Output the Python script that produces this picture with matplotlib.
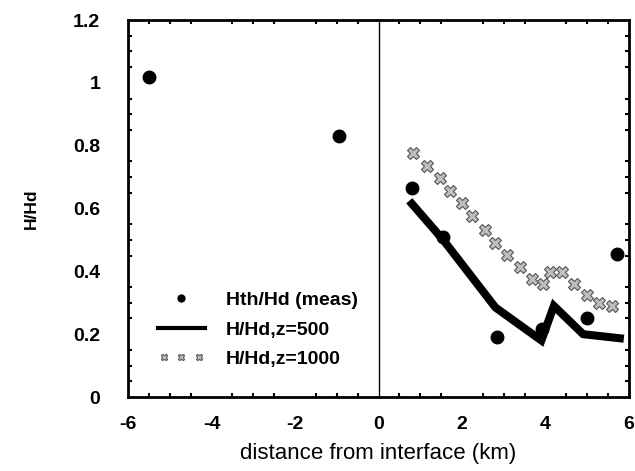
import matplotlib
matplotlib.use("Agg")
import matplotlib.pyplot as plt
from matplotlib.ticker import MultipleLocator
from matplotlib.legend_handler import HandlerLine2D

plt.rcParams['font.family'] = ['Liberation Sans', 'DejaVu Sans']

# measured Hth/Hd
meas_x = [-5.5, -0.95, 0.8, 1.55, 2.83, 3.91, 4.99, 5.70]
meas_y = [1.02, 0.83, 0.665, 0.51, 0.19, 0.215, 0.25, 0.455]

# H/Hd, z=500
z500_x = [0.8, 1.55, 2.8, 3.9, 4.2, 4.9, 5.78]
z500_y = [0.615, 0.50, 0.285, 0.18, 0.29, 0.20, 0.187]

# H/Hd, z=1000
z1000_x = [0.83, 1.17, 1.47, 1.71, 1.99, 2.23, 2.55, 2.79, 3.07, 3.39, 3.68,
           3.93, 4.11, 4.39, 4.67, 4.99, 5.29, 5.59]
z1000_y = [0.776, 0.736, 0.696, 0.657, 0.619, 0.576, 0.532, 0.489, 0.452, 0.415,
           0.375, 0.36, 0.399, 0.399, 0.36, 0.325, 0.30, 0.29]

xticks = [-6, -4, -2, 0, 2, 4, 6]
xticklabels = ['-6', '-4', '-2', '0', '2', '4', '6']
yticks = [0, 0.2, 0.4, 0.6, 0.8, 1.0, 1.2]
yticklabels = ['0', '0.2', '0.4', '0.6', '0.8', '1', '1.2']

fig = plt.figure(figsize=(6.35, 4.71), dpi=100)
ax = fig.add_axes([0.2016, 0.1571, 0.789, 0.8004])

ax.axvline(0, color='black', lw=1.0, zorder=1)

ax.plot(meas_x, meas_y, 'o', color='black', ms=9, ls='none',
        label='Hth/Hd (meas)', zorder=4)
ax.plot(z500_x, z500_y, '-', color='black', lw=5.8, solid_joinstyle='miter',
        label='H/Hd,z=500', zorder=3)
z1000_line, = ax.plot(z1000_x, z1000_y, ls='none', marker='X', ms=8.5,
                      mfc='#bdbdbd', mec='#555555', mew=0.8,
                      label='H/Hd,z=1000', zorder=2)

ax.set_xlim(-6, 6)
ax.set_ylim(0, 1.2)
ax.set_xticks(xticks)
ax.set_xticklabels(xticklabels, fontweight='bold')
ax.set_yticks(yticks)
ax.set_yticklabels(yticklabels, fontweight='bold')
ax.xaxis.set_minor_locator(MultipleLocator(0.5))
ax.yaxis.set_minor_locator(MultipleLocator(0.05))
ax.tick_params(which='major', length=0, labelsize=14)
ax.tick_params(axis='y', which='major', pad=20)
ax.tick_params(axis='x', which='major', pad=14)
ax.tick_params(which='minor', direction='in', length=3, width=1.5,
               top=True, right=True)
for s in ax.spines.values():
    s.set_linewidth(2)

ax.set_xlabel('distance from interface (km)', fontsize=16, labelpad=7)
ax.set_ylabel('H/Hd', fontsize=12.5, fontweight='bold', labelpad=25)

leg = ax.legend(loc='lower left', bbox_to_anchor=(0.025, 0.03), frameon=False,
                prop={'size': 14, 'weight': 'bold'}, numpoints=1,
                markerscale=0.55, handlelength=2.4, handletextpad=1.1,
                labelspacing=0.62,
                handler_map={z1000_line: HandlerLine2D(numpoints=3)})
leg.get_lines()[1].set_linewidth(3)

fig.savefig('out.png', dpi=100)
